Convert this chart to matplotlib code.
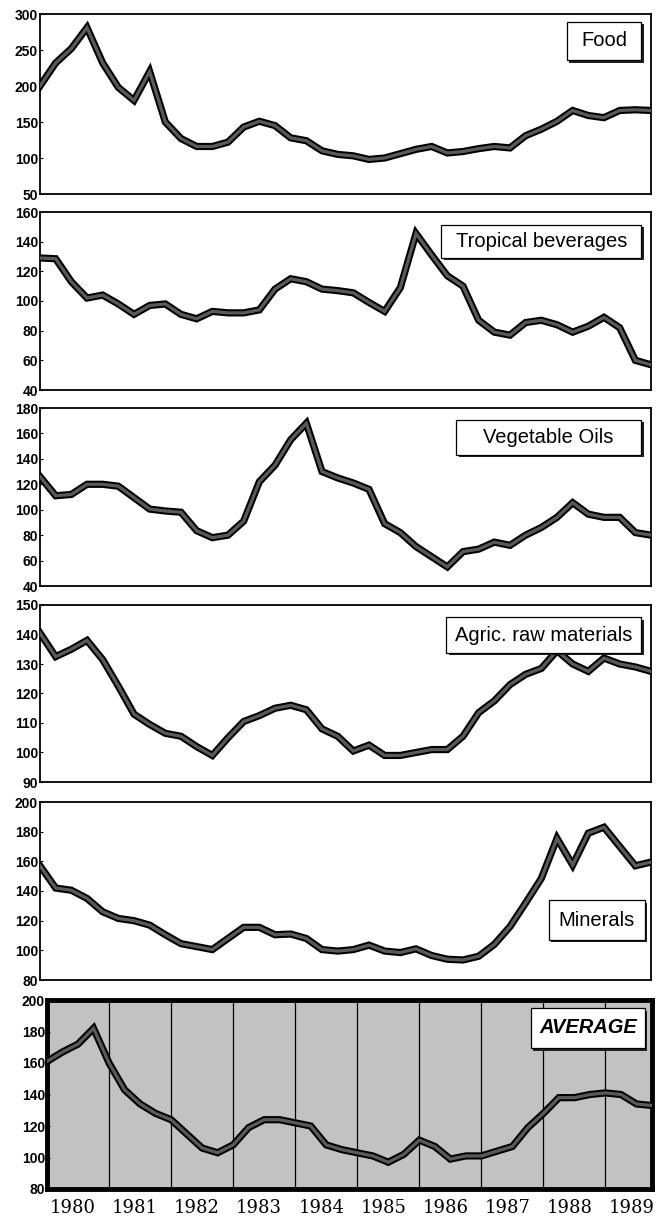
import matplotlib
matplotlib.use("Agg")
import matplotlib.pyplot as plt
import matplotlib.patheffects as pe
from matplotlib.patches import Rectangle

# ---------------- data (quarterly, 1980Q1 .. 1989Q4) ----------------
years = list(range(1980, 1990))
quarters = [f"{y}Q{q}" for y in years for q in range(1, 5)]

food = [200, 232, 252, 281, 232, 198, 180, 220, 150, 127,
        116, 116, 122, 143, 151, 145, 128, 124, 110, 105,
        103, 98, 100, 106, 112, 116, 107, 109, 113, 116,
        114, 131, 140, 151, 166, 159, 156, 166, 167, 166]

tropical = [129, 128.5, 113, 102, 104, 98, 91, 97, 98, 91,
            88, 93, 92, 92, 94, 108, 115, 113, 108, 107,
            105.5, 99, 93, 109, 145.5, 131, 117, 110, 87, 79,
            77, 85.5, 87, 84, 79, 83, 89, 82, 60, 57]

veg_oils = [126, 111, 112, 120, 120, 118.5, 109.5, 100.5, 99, 98,
            83.5, 78, 80, 91, 122, 135, 155, 168, 130, 125,
            121, 116, 89, 82, 71, 63, 55, 67, 69, 74.5,
            72, 80, 86, 94, 105.5, 96.5, 94, 94, 82, 80]

agric = [140.5, 132.5, 135, 138, 131.5, 122.5, 113, 109.5, 106.5, 105.5,
         102, 99, 105, 110.5, 112.5, 115, 116, 114.5, 108, 105.5,
         100.5, 102.5, 99, 99, 100, 101, 101, 105.5, 113.5, 117.5,
         123, 126.5, 128.5, 134.5, 130, 127.5, 132, 130, 129, 127.5]

minerals = [157, 142, 140.5, 135, 126, 121.5, 120, 117, 110.5, 104.5,
            102.5, 100.5, 108, 115.5, 115.5, 110.5, 111, 108, 100.5, 99.5,
            100.5, 103.5, 99.5, 98.5, 101, 96.5, 94, 93.5, 96, 104,
            116, 132, 148.5, 175.5, 157.5, 179, 183, 170, 157, 159.5]

average = [161, 167, 172, 182, 160, 143, 134, 128, 124, 115,
           106, 103, 108, 119, 124, 124, 122, 120, 108, 105,
           103, 101, 97, 102, 111, 107, 99, 101, 101, 104,
           107, 119, 128, 138, 138, 140, 141, 140, 134, 133]

titles = ["Food", "Tropical beverages", "Vegetable Oils",
          "Agric. raw materials", "Minerals", "AVERAGE"]
series = [food, tropical, veg_oils, agric, minerals, average]
y_ticks = [[50, 100, 150, 200, 250, 300],
           [40, 60, 80, 100, 120, 140, 160],
           [40, 60, 80, 100, 120, 140, 160, 180],
           [90, 100, 110, 120, 130, 140, 150],
           [80, 100, 120, 140, 160, 180, 200],
           [80, 100, 120, 140, 160, 180, 200]]

# ---------------- layout ----------------
W, H = 656, 1219
fig = plt.figure(figsize=(W / 100, H / 100), dpi=100)
fig.patch.set_facecolor("white")

panel_px = [(14, 194), (212, 390), (408, 586), (605, 782), (802, 980), (1000, 1189)]
panel_lr = [(40, 651)] * 5 + [(47, 652)]
# label boxes in axes fractions (x0, y0, x1, y1)
boxes = [(0.862, 0.744, 0.984, 0.956),
         (0.657, 0.742, 0.984, 0.927),
         (0.681, 0.736, 0.984, 0.933),
         (0.665, 0.729, 0.984, 0.932),
         (0.833, 0.225, 0.990, 0.449),
         (0.800, 0.746, 0.988, 0.958)]

xs = [int(q[:4]) + (int(q[-1]) - 1) / 4 for q in quarters]

for k, (title, vals, ticks, (top, bot), (lpx, rpx), box) in enumerate(
        zip(titles, series, y_ticks, panel_px, panel_lr, boxes)):
    is_avg = (k == len(titles) - 1)
    ax = fig.add_axes([lpx / W, 1 - bot / H, (rpx - lpx) / W, (bot - top) / H])
    ax.set_xlim(xs[0], xs[-1])
    ax.set_ylim(ticks[0], ticks[-1])
    ax.set_yticks(ticks)
    ax.set_yticklabels([str(t) for t in ticks], family="Liberation Sans",
                       fontsize=10, fontweight="bold")
    ax.tick_params(axis="y", length=2, width=0.8, pad=1.5, direction="in")
    for s in ax.spines.values():
        s.set_linewidth(3.5 if is_avg else 1.3)
        s.set_color("black")

    if is_avg:
        ax.set_facecolor("#c2c2c2")
        for yr in years[1:]:
            ax.axvline(yr, color="black", lw=0.9, zorder=1)
        ax.set_xticks([y + 0.42 for y in years])
        ax.set_xticklabels([str(y) for y in years], family="DejaVu Serif", fontsize=13)
        ax.tick_params(axis="x", length=0, pad=7)
    else:
        ax.set_xticks([])

    ax.plot(xs, vals, color="#5a5a5a", lw=2.3, solid_joinstyle="miter", zorder=3,
            path_effects=[pe.Stroke(linewidth=5.2, foreground="black"), pe.Normal()])

    x0, y0, x1, y1 = box
    ax.add_patch(Rectangle((x0 + 0.004, y0 - 0.014), x1 - x0, y1 - y0,
                           transform=ax.transAxes, facecolor="#202020",
                           edgecolor="none", zorder=4, clip_on=False))
    ax.add_patch(Rectangle((x0, y0), x1 - x0, y1 - y0, transform=ax.transAxes,
                           facecolor="white", edgecolor="black", lw=0.9, zorder=5))
    ax.text((x0 + x1) / 2, (y0 + y1) / 2, title, transform=ax.transAxes,
            ha="center", va="center", family="Liberation Sans",
            fontsize=14.5,
            fontweight="bold" if is_avg else "normal",
            style="italic" if is_avg else "normal", zorder=6)

fig.savefig("out.png", dpi=100)
